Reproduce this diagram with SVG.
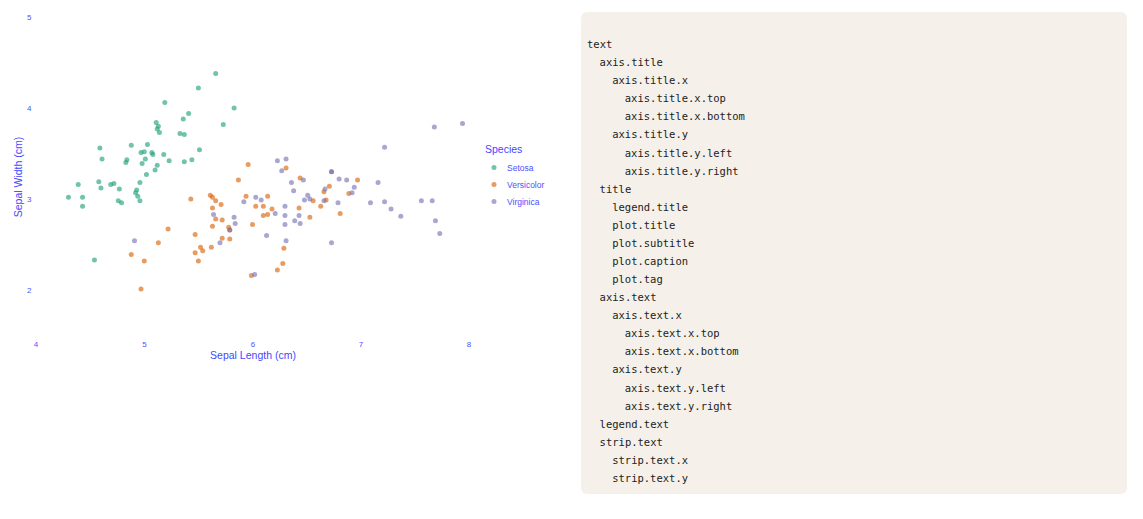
<svg xmlns="http://www.w3.org/2000/svg" width="1143" height="519" viewBox="0 0 1143 519">
<style>
.tick{font-family:"Liberation Sans",Arial,sans-serif;font-size:8px;fill:#5050ff}
.ttl{font-family:"Liberation Sans",Arial,sans-serif;font-size:10.5px;fill:#4646ff}
.lg{font-family:"Liberation Sans",Arial,sans-serif;font-size:8.5px;fill:#5050ff}
.pts path{fill:none;stroke-width:5;stroke-linecap:round;vector-effect:non-scaling-stroke;stroke-opacity:0.62}
.set{stroke:#1b9e77}
.ver{stroke:#d95f02}
.vir{stroke:#7570b3}
.code{font-family:"DejaVu Sans Mono","Liberation Mono",monospace;font-size:10.5px;fill:#222}
</style>
<rect width="1143" height="519" fill="#ffffff"/>
<g id="plot">
<g id="y-ticks" class="tick" text-anchor="end">
<text x="31.5" y="20">5</text>
<text x="31.5" y="111">4</text>
<text x="31.5" y="202">3</text>
<text x="31.5" y="293">2</text>
</g>
<g id="x-ticks" class="tick" text-anchor="middle">
<text x="36" y="347">4</text>
<text x="144.5" y="347">5</text>
<text x="253" y="347">6</text>
<text x="361" y="347">7</text>
<text x="469" y="347">8</text>
</g>
<text id="x-title" class="ttl" x="253" y="359" text-anchor="middle">Sepal Length (cm)</text>
<text id="y-title" class="ttl" transform="translate(21.5,177) rotate(-90)" text-anchor="middle">Sepal Width (cm)</text>
<g id="points" class="pts" transform="matrix(10.825 0 0 -9.1 -397 472)">
<g id="setosa" class="set">
<path d="M50.7 35.1h0"/><path d="M49.4 30.3h0"/><path d="M46.9 31.6h0"/><path d="M46 31.2h0"/><path d="M50.3 36h0"/>
<path d="M53.6 38.8h0"/><path d="M46.1 34.4h0"/><path d="M49.8 33.9h0"/><path d="M44.3 29.2h0"/><path d="M49.2 30.7h0"/>
<path d="M53.7 37.1h0"/><path d="M48.4 34.3h0"/><path d="M47.9 29.6h0"/><path d="M43 30.2h0"/><path d="M58.3 40h0"/>
<path d="M56.6 43.8h0"/><path d="M54.1 39.4h0"/><path d="M50.8 34.9h0"/><path d="M57.3 38.2h0"/><path d="M51.2 37.7h0"/>
<path d="M53.7 34.1h0"/><path d="M51.4 37.3h0"/><path d="M45.9 35.6h0"/><path d="M51 33.2h0"/><path d="M48.3 34h0"/>
<path d="M49.6 29.8h0"/><path d="M50.1 34.4h0"/><path d="M51.8 34.9h0"/><path d="M52.3 34.2h0"/><path d="M47.2 31.7h0"/>
<path d="M47.7 31.1h0"/><path d="M54.4 34.3h0"/><path d="M51.9 40.6h0"/><path d="M55 42.2h0"/><path d="M49.3 31h0"/>
<path d="M49.6 31.8h0"/><path d="M55.1 35.4h0"/><path d="M48.8 35.9h0"/><path d="M44.3 30.2h0"/><path d="M51.2 33.7h0"/>
<path d="M49.7 35.1h0"/><path d="M45.4 23.3h0"/><path d="M43.9 31.6h0"/><path d="M50 35.2h0"/><path d="M51.3 38h0"/>
<path d="M47.6 29.8h0"/><path d="M51.1 38.4h0"/><path d="M45.8 31.9h0"/><path d="M53.3 37.2h0"/><path d="M50.2 32.7h0"/>
</g>
<g id="versicolor" class="ver">
<path d="M69.7 32.1h0"/><path d="M64.4 32.3h0"/><path d="M68.9 30.6h0"/><path d="M55 23.2h0"/><path d="M65.3 28h0"/>
<path d="M56.6 27.8h0"/><path d="M63.1 33.4h0"/><path d="M48.8 23.9h0"/><path d="M66.3 29.2h0"/><path d="M52.2 26.7h0"/>
<path d="M49.7 20.1h0"/><path d="M59.4 30.3h0"/><path d="M59.9 21.6h0"/><path d="M61 29.2h0"/><path d="M56.3 29h0"/>
<path d="M66.6 30.8h0"/><path d="M56.1 30.4h0"/><path d="M57.8 26.9h0"/><path d="M62.3 22.2h0"/><path d="M56.2 24.7h0"/>
<path d="M58.7 32.1h0"/><path d="M61.4 28.3h0"/><path d="M62.9 24.6h0"/><path d="M61 28.2h0"/><path d="M64.3 29h0"/>
<path d="M65.6 29.8h0"/><path d="M68.1 28.4h0"/><path d="M66.8 29.9h0"/><path d="M60.3 29.2h0"/><path d="M57.2 25.7h0"/>
<path d="M54.7 24.1h0"/><path d="M55.4 24.3h0"/><path d="M57.9 26.6h0"/><path d="M60 27.2h0"/><path d="M54.3 30h0"/>
<path d="M59.6 33.8h0"/><path d="M67.1 31.4h0"/><path d="M62.8 22.9h0"/><path d="M56.3 30.2h0"/><path d="M55.2 24.7h0"/>
<path d="M54.7 26.1h0"/><path d="M61.4 30.3h0"/><path d="M57.9 25.6h0"/><path d="M50 23.2h0"/><path d="M56.3 27h0"/>
<path d="M56.6 29.8h0"/><path d="M57.1 29.4h0"/><path d="M61.8 28.9h0"/><path d="M51.3 25.2h0"/><path d="M57.2 27.7h0"/>
</g>
<g id="virginica" class="vir">
<path d="M62.7 33.1h0"/><path d="M58.4 27.3h0"/><path d="M70.9 29.6h0"/><path d="M63 29.2h0"/><path d="M65.3 30h0"/>
<path d="M75.6 29.8h0"/><path d="M49.1 25.4h0"/><path d="M72.8 28.9h0"/><path d="M67.3 25.2h0"/><path d="M72.2 35.7h0"/>
<path d="M64.7 32.1h0"/><path d="M64.4 27.3h0"/><path d="M67.9 29.6h0"/><path d="M57 25.2h0"/><path d="M58.3 28h0"/>
<path d="M63.6 31.8h0"/><path d="M65.1 30.4h0"/><path d="M76.8 37.9h0"/><path d="M77.3 26.2h0"/><path d="M60.2 21.7h0"/>
<path d="M68.7 32.1h0"/><path d="M56.4 28.3h0"/><path d="M76.9 27.6h0"/><path d="M63 27.2h0"/><path d="M67.3 33h0"/>
<path d="M71.6 31.8h0"/><path d="M62.1 28.4h0"/><path d="M60.8 29.9h0"/><path d="M64.3 28.2h0"/><path d="M72.2 29.7h0"/>
<path d="M73.7 28.1h0"/><path d="M79.4 38.3h0"/><path d="M63.9 27.6h0"/><path d="M63 28.2h0"/><path d="M61.3 26h0"/>
<path d="M76.6 29.8h0"/><path d="M63.1 34.4h0"/><path d="M63.8 30.9h0"/><path d="M60.3 30.2h0"/><path d="M69.2 30.7h0"/>
<path d="M66.7 31.1h0"/><path d="M69.4 31.3h0"/><path d="M57.9 26.6h0"/><path d="M68 32.2h0"/><path d="M67.3 33h0"/>
<path d="M66.6 29.8h0"/><path d="M63.1 25.4h0"/><path d="M64.8 29.9h0"/><path d="M62.3 34.2h0"/><path d="M59.2 29.7h0"/>
</g>
</g>
</g>
<g id="legend">
<text class="ttl" x="485" y="153">Species</text>
<circle cx="494" cy="167.5" r="2.5" fill="#1b9e77" fill-opacity="0.62"/>
<circle cx="494" cy="184.5" r="2.5" fill="#d95f02" fill-opacity="0.62"/>
<circle cx="494" cy="201.5" r="2.5" fill="#7570b3" fill-opacity="0.62"/>
<text class="lg" x="507" y="170.5">Setosa</text>
<text class="lg" x="507" y="187.5">Versicolor</text>
<text class="lg" x="507" y="204.5">Virginica</text>
</g>
<g id="element-tree">
<rect x="581" y="12" width="546" height="482" rx="6" fill="#f5f1ea"/>
<g class="code">
<text x="587" y="48">text</text>
<text x="599.6" y="66.1">axis.title</text>
<text x="612.2" y="84.2">axis.title.x</text>
<text x="624.8" y="102.2">axis.title.x.top</text>
<text x="624.8" y="120.3">axis.title.x.bottom</text>
<text x="612.2" y="138.4">axis.title.y</text>
<text x="624.8" y="156.5">axis.title.y.left</text>
<text x="624.8" y="174.6">axis.title.y.right</text>
<text x="599.6" y="192.6">title</text>
<text x="612.2" y="210.7">legend.title</text>
<text x="612.2" y="228.8">plot.title</text>
<text x="612.2" y="246.9">plot.subtitle</text>
<text x="612.2" y="265">plot.caption</text>
<text x="612.2" y="283">plot.tag</text>
<text x="599.6" y="301.1">axis.text</text>
<text x="612.2" y="319.2">axis.text.x</text>
<text x="624.8" y="337.3">axis.text.x.top</text>
<text x="624.8" y="355.4">axis.text.x.bottom</text>
<text x="612.2" y="373.4">axis.text.y</text>
<text x="624.8" y="391.5">axis.text.y.left</text>
<text x="624.8" y="409.6">axis.text.y.right</text>
<text x="599.6" y="427.7">legend.text</text>
<text x="599.6" y="445.8">strip.text</text>
<text x="612.2" y="463.8">strip.text.x</text>
<text x="612.2" y="481.9">strip.text.y</text>
</g>
</g>
</svg>
